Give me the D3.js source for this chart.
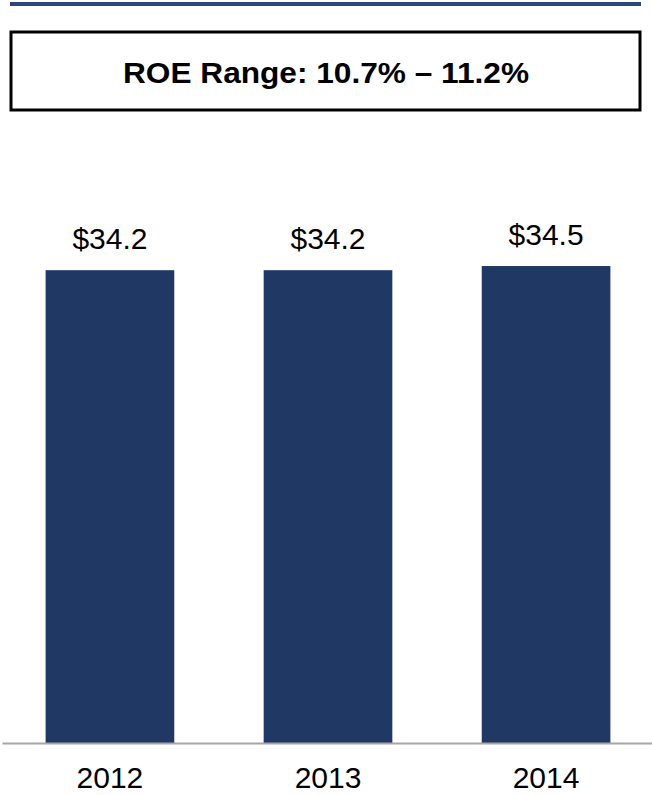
<!DOCTYPE html>
<html>
<head>
<meta charset="utf-8">
<script src="https://cdn.jsdelivr.net/npm/d3@7"></script>
<style>
  html, body { margin: 0; padding: 0; background: #fff; }
  svg { display: block; font-family: Arial, "Liberation Sans", Helvetica, sans-serif; }
</style>
</head>
<body>
<svg id="chart" width="652" height="795"></svg>
<script>
// chart data
var years = ['2012', '2013', '2014'],
    values = [34.2, 34.2, 34.5],
    valueLabels = ['$34.2', '$34.2', '$34.5'],
    headline = 'ROE Range: 10.7% \u2013 11.2%';

var width = 652,
    height = 795,
    baseline = 743,
    barColor = '#203864';

var svg = d3.select('#chart');

// rule across the top
svg.append('rect')
    .attr('x', 10)
    .attr('y', 2)
    .attr('width', 631)
    .attr('height', 4)
    .attr('fill', '#2c4677');

// ROE box
svg.append('rect')
    .attr('x', 11)
    .attr('y', 32)
    .attr('width', 629)
    .attr('height', 78)
    .attr('fill', 'none')
    .attr('stroke', '#000')
    .attr('stroke-width', 3);

svg.append('text')
    .attr('x', 326)
    .attr('y', 83)
    .attr('text-anchor', 'middle')
    .attr('font-size', 29)
    .attr('font-weight', 'bold')
    .attr('textLength', 406)
    .attr('lengthAdjust', 'spacingAndGlyphs')
    .attr('fill', '#000')
    .text(headline);

var x = d3.scaleBand()
    .domain(years)
    .range([2, 654])
    .paddingInner(0.41)
    .paddingOuter(0.2);

var y = d3.scaleLinear()
    .domain([0, 40])
    .range([baseline, 190]);

var data = years.map(function(d, i) {
    return {year: d, value: values[i], label: valueLabels[i]};
});

// bars
svg.selectAll('rect.bar')
    .data(data)
    .enter()
    .append('rect')
        .attr('class', 'bar')
        .attr('x', function(d) { return x(d.year); })
        .attr('y', function(d) { return y(d.value); })
        .attr('width', x.bandwidth())
        .attr('height', function(d) { return baseline - y(d.value); })
        .attr('fill', barColor);

// value labels
svg.selectAll('text.value')
    .data(data)
    .enter()
    .append('text')
        .attr('class', 'value')
        .attr('x', function(d) { return x(d.year) + x.bandwidth() / 2; })
        .attr('y', function(d) { return y(d.value) - 21; })
        .attr('text-anchor', 'middle')
        .attr('font-size', 30)
        .attr('fill', '#000')
        .text(function(d) { return d.label; });

// category axis
var axis = svg.append('g')
    .attr('transform', 'translate(0,' + baseline + ')')
    .call(d3.axisBottom(x).tickSize(0).tickPadding(24));

axis.select('.domain')
    .attr('stroke', '#a6a6a6')
    .attr('stroke-width', 2);

axis.selectAll('.tick text')
    .attr('font-size', 30)
    .attr('font-family', 'Arial, "Liberation Sans", sans-serif')
    .attr('fill', '#000');
</script>
</body>
</html>
